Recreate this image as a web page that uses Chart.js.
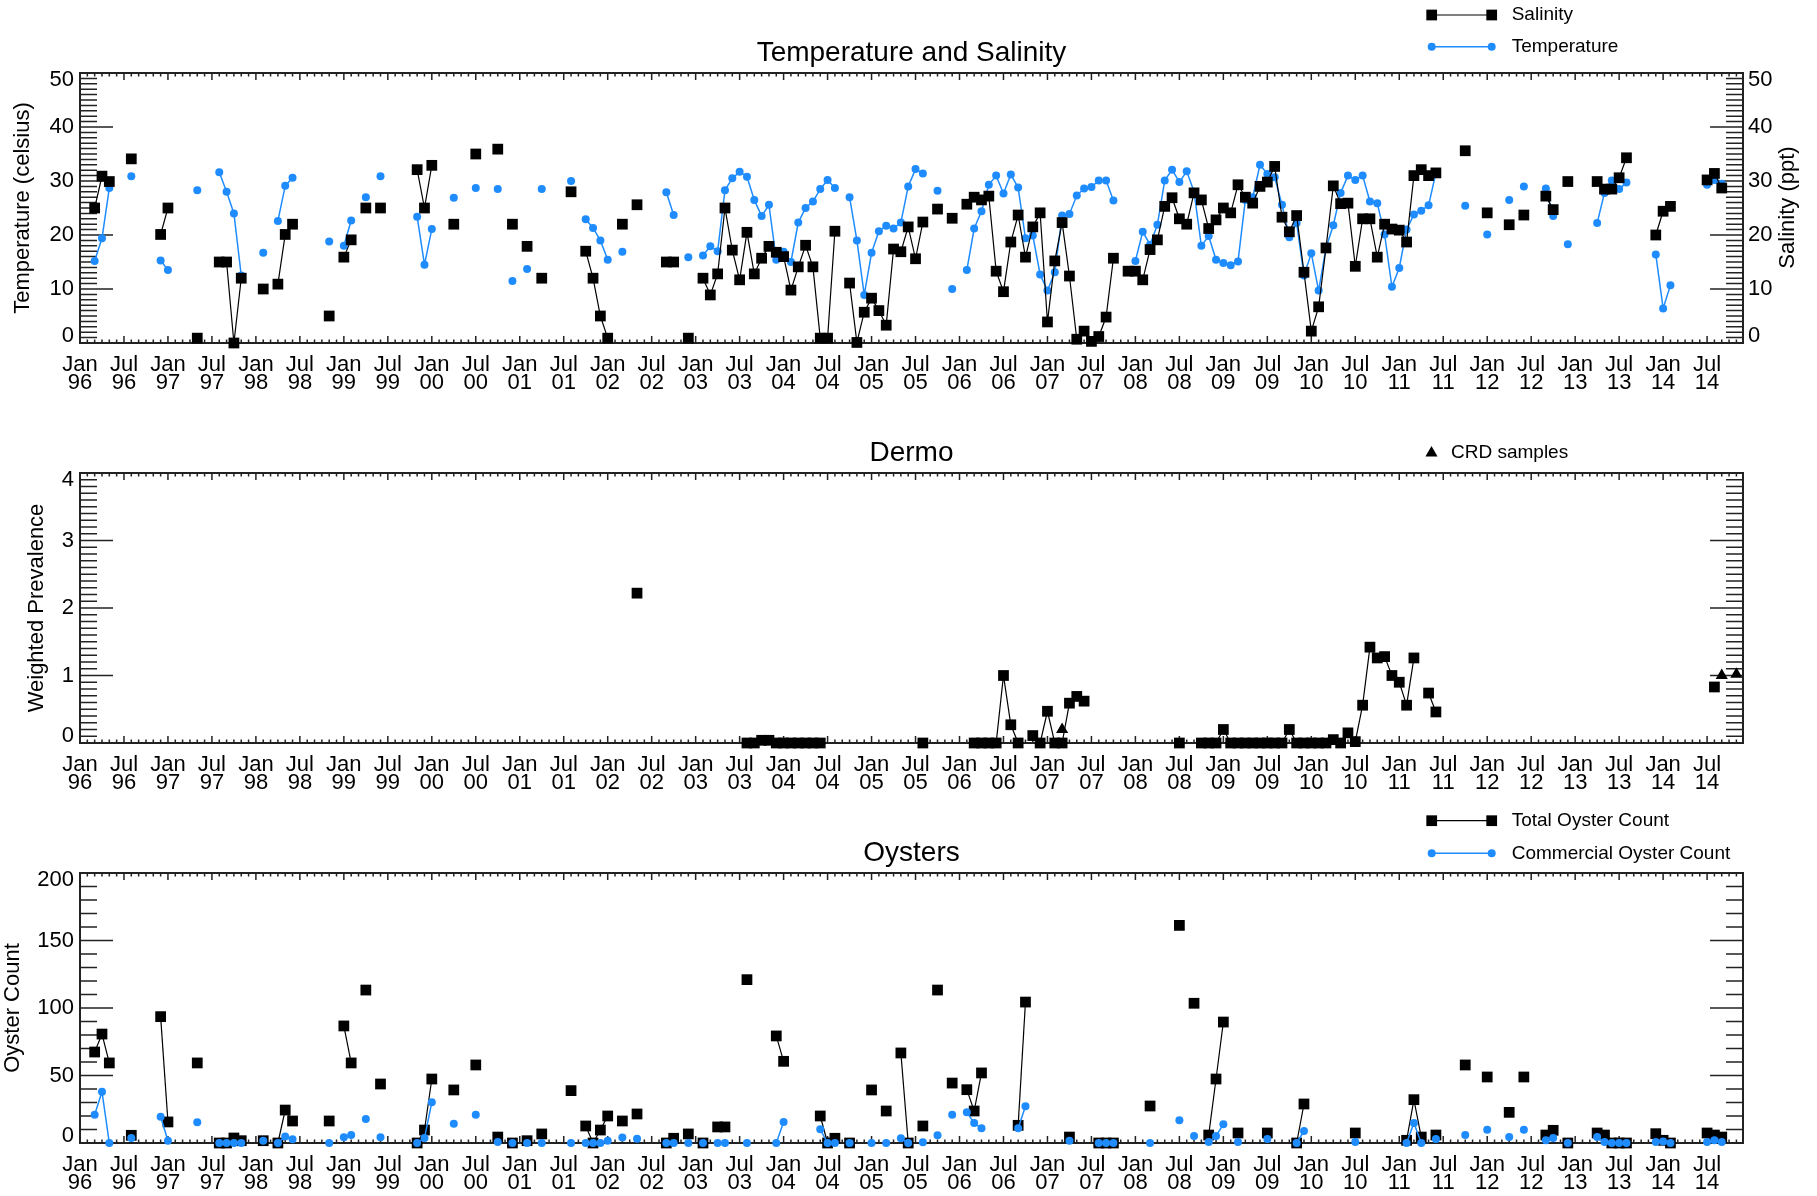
<!DOCTYPE html>
<html>
<head>
<meta charset="utf-8">
<script src="https://cdn.jsdelivr.net/npm/chart.js@4.4.1/dist/chart.umd.min.js"></script>
<style>
  html, body { margin: 0; padding: 0; background: #fff; }
  #wrap { position: relative; width: 1817px; height: 1196px; }
  canvas { position: absolute; left: 0; }
</style>
</head>
<body>
<div id="wrap">
  <canvas id="ch-ts" width="1817" height="400" style="top:0"></canvas>
  <canvas id="ch-dermo" width="1817" height="400" style="top:400px"></canvas>
  <canvas id="ch-oys" width="1817" height="396" style="top:800px"></canvas>
</div>
<script>
/* Station time series: temperature/salinity, Dermo prevalence, oyster counts.
   x values are months counted from Jan 1996 (0 = Jan 96). */

// ---- x axis ----
const X_MAX = 226.9;
const xTickMonths = Array.from({ length: 38 }, (_, i) => i * 6);   // Jan 96 ... Jul 14
const xTickLabels = xTickMonths.map(m => [m % 12 ? 'Jul' : 'Jan', String(96 + Math.floor(m / 12)).slice(-2)]);

// ---- Temperature and Salinity ----
const tsMonth = [
  2, 3, 4, 7, 11, 12, 16, 19, 20, 21, 22, 25, 27, 28, 29, 34, 36, 37, 39, 41,
  46, 47, 48, 51, 54, 57, 59, 61, 63, 67, 69, 70, 71, 72, 74, 76, 80, 81, 83,
  85, 86, 87, 88, 89, 90, 91, 92, 93, 94, 95, 96, 97, 98, 99, 100, 101, 102, 103,
  105, 106, 107, 108, 109, 110, 111, 112, 113, 114, 115, 117, 119,
  121, 122, 123, 124, 125, 126, 127, 128, 129, 130, 131, 132, 133, 134, 135, 136, 137, 138, 139, 140, 141,
  143, 144, 145, 146, 147, 148, 149, 150, 151, 152, 153, 154, 155, 156, 157, 158, 159, 160, 161, 162, 163,
  164, 165, 166, 167, 168, 169, 170, 171, 172, 173, 174, 175, 176, 177, 178, 179, 180, 181, 182, 183, 184, 185,
  189, 192, 195, 197, 200, 201, 203, 207, 208, 209, 210, 211, 215, 216, 217, 222, 223, 224
];
const salinity = [
  25.0, 30.9, 29.9, 34.1, 20.1, 25.0, 0.9, 15.0, 15.0, 0, 12.0, 10.0, 10.9, 20.1, 22.0, 5.0, 15.9, 19.1, 25.0, 25.0,
  32.1, 25.0, 32.9, 22.0, 35.0, 35.9, 22.0, 17.9, 12.0, 28.0, 17.0, 12.0, 5.0, 0.9, 22.0, 25.6, 15.0, 15.0, 0.9,
  12.0, 8.9, 12.8, 25.0, 17.2, 11.7, 20.5, 12.8, 15.7, 17.9, 16.8, 16.0, 9.8, 14.1, 18.1, 14.1, 0.9, 0.9, 20.7,
  11.1, 0.1, 5.7, 8.3, 6.0, 3.3, 17.4, 16.9, 21.5, 15.6, 22.4, 24.8, 23.1,
  25.7, 27.0, 26.5, 27.2, 13.3, 9.5, 18.7, 23.7, 15.9, 21.5, 24.1, 3.9, 15.2, 22.3, 12.4, 0.7, 2.2, 0.3, 1.2, 4.8, 15.7,
  13.3, 13.3, 11.7, 17.3, 19.1, 25.3, 26.9, 23.0, 22.0, 27.8, 26.5, 21.2, 22.8, 25.0, 24.1, 29.3, 27.0, 25.9, 29.0, 29.8, 32.7,
  23.3, 20.6, 23.6, 13.1, 2.2, 6.7, 17.6, 29.1, 25.8, 25.9, 14.2, 23.0, 23.0, 15.9, 22.0, 21.1, 20.9, 18.7, 31.0, 32.1, 31.0, 31.5,
  35.6, 24.1, 21.9, 23.7, 27.2, 24.7, 29.9, 29.9, 28.5, 28.5, 30.6, 34.3, 20.0, 24.4, 25.3, 30.2, 31.4, 28.7
];
const temperature = [
  15.2, 19.4, 28.7, 30.9, 15.3, 13.5, 28.3, 31.6, 28.0, 24.0, 12.5, 16.7, 22.6, 29.1, 30.6, 18.8, 18.0, 22.7, 27.0, 30.9,
  23.4, 14.5, 21.1, 26.9, 28.7, 28.5, 11.5, 13.7, 28.5, 30.0, 22.9, 21.3, 19.0, 15.4, 16.9, null, 27.9, 23.7, 15.9,
  16.2, 17.9, 17.0, 28.3, 30.5, 31.7, 30.8, 26.5, 23.5, 25.6, 15.4, 16.9, 15.0, 22.3, 25.0, 26.2, 28.5, 30.2, 28.7,
  27.0, 19.0, 8.9, 16.7, 20.7, 21.7, 21.2, 22.3, 29.0, 32.2, 31.4, 28.2, 10.0,
  13.5, 21.2, 24.4, 29.3, 31.0, 27.7, 31.2, 28.8, 19.4, 19.9, 12.7, 9.7, 13.1, 23.6, 23.9, 27.3, 28.6, 28.9, 30.1, 30.1, 26.4,
  null, 15.2, 20.6, 18.2, 21.9, 30.1, 32.1, 29.8, 31.8, 28.0, 18.0, 19.8, 15.4, 14.8, 14.4, 15.1, 26.5, 27.0, 33.0, 31.3, 30.7,
  25.6, 19.6, 22.2, 12.5, 16.6, 9.7, 17.6, 21.8, 27.8, 31.0, 30.2, 31.0, 26.2, 25.9, 20.1, 10.4, 13.9, 21.0, 23.8, 24.5, 25.5, 31.5,
  25.4, 20.1, 26.5, 29.0, 28.6, 23.5, 18.3, 22.2, 27.8, 30.1, 28.5, 29.7, 16.4, 6.4, 10.7, 29.3, 30.2, 29.5
];

// ---- Dermo ----
const dermoMonth = [
  76, 91, 92, 93, 94, 95, 96, 97, 98, 99, 100, 101, 115,
  122, 123, 124, 125, 126, 127, 128, 130, 131, 132, 133, 134, 135, 136, 137, 150,
  153, 154, 155, 156, 157, 158, 159, 160, 161, 162, 163, 164, 165, 166, 167,
  168, 169, 170, 171, 172, 173, 174, 175, 176, 177, 178, 179, 180, 181, 182,
  184, 185, 223
];
const dermo = [
  2.22, 0, 0, 0.04, 0.04, 0, 0, 0, 0, 0, 0, 0, 0,
  0, 0, 0, 0, 1.0, 0.27, 0, 0.11, 0, 0.47, 0, 0, 0.59, 0.69, 0.62, 0,
  0, 0, 0, 0.2, 0, 0, 0, 0, 0, 0, 0, 0, 0.2, 0, 0,
  0, 0, 0, 0.05, 0, 0.15, 0.02, 0.56, 1.42, 1.26, 1.28, 1.0, 0.9, 0.56, 1.26,
  0.74, 0.46, 0.83
];
const crdMonth = [134, 224, 226];
const crd = [0.2, 1.0, 1.02];

// ---- Oysters ----
const oysterMonth = [
  2, 3, 4, 7, 11, 12, 16, 19, 20, 21, 22, 25, 27, 28, 29, 34, 36, 37, 39, 41,
  46, 47, 48, 51, 54, 57, 59, 61, 63, 67, 69, 70, 71, 72, 74, 76, 80, 81, 83, 85,
  87, 88, 91, 95, 96, 101, 102, 103, 105, 108, 110, 112, 113, 115, 117, 119,
  121, 122, 123, 128, 129, 135, 139, 140, 141, 146, 150, 152, 154, 155, 156, 158, 162, 166, 167,
  174, 181, 182, 183, 185, 189, 192, 195, 197, 200, 201, 203,
  207, 208, 209, 210, 211, 215, 216, 217, 222, 223, 224
];
const totalOysters = [
  67.4, 80.7, 59.3, 5.7, 93.6, 15.6, 59.3, 0, 0, 3.7, 1.7, 1.7, 0, 24.4, 16.3, 16.3, 86.7, 59.3, 113.3, 43.7,
  0, 9.6, 47.4, 39.3, 57.8, 4.4, 0, 1.7, 6.7, 38.8, 12.6, 0, 9.6, 20, 16.3, 21.5, 0, 3.5, 6.7, 0,
  11.9, 11.9, 121, 79.3, 60.5, 20, 0, 3.5, 0, 39.3, 23.7, 66.7, 0, 12.6, 113.3, 44.4,
  39.5, 23.7, 51.9, 13.1, 104.4, 4.4, 0, 0, 0, 27.4, 161.2, 103.5, 5.9, 47.4, 89.6, 7.4, 7.4, 0, 28.9,
  7.4, 2, 32.1, 4.4, 5.9, 57.8, 48.9, 22.7, 48.9, 5.9, 9.4, 0,
  7.4, 5.9, 0, 0, 0, 6.9, 2, 0, 7.4, 5.9, 4.4
];
const commercialOysters = [
  21, 38, 0, 3.7, 19.5, 1.7, 15.3, 0, 0, 0, 0, 1.7, 0, 4.9, 2.7, 0, 4.2, 5.9, 17.8, 4.2,
  0, 3.7, 30.1, 14.3, 21, 0.7, 0, 0, 0, 0, 0, 0, 0, 1.7, 4, 3.2, 0, 0, 0, 0,
  0, 0, 0, 0, 15.6, 10.1, 0, 0, 0, 0, 0, 3.5, 0, 0.5, 5.7, 21,
  22.7, 14.8, 10.9, 10.9, 27.2, 1.7, 0, 0, 0, 0, 16.8, 5.2, 0.7, 5.2, 13.8, 0.7, 3, 0, 8.9,
  0.7, 0, 14.8, 0, 3, 5.9, 9.9, 4.4, 9.9, 2, 3.7, 0,
  4.4, 0.7, 0, 0, 0, 0.7, 1.2, 0, 0.7, 2, 0.7
];

// ---- look ----
const FONT = "'Liberation Sans', Arial, Helvetica, sans-serif";
const BLUE = '#1e8cff';
const INK = '#000';
const AXIS = '#222';
Chart.defaults.font.family = FONT;
Chart.defaults.color = INK;

const pts = (xs, ys) => xs.map((x, i) => ({ x, y: ys[i] }));
// samples more than a month apart are not joined
const gapSeg = { borderColor: c => (c.p1.parsed.x - c.p0.parsed.x > 1.5 ? 'rgba(0,0,0,0)' : undefined) };

function series(label, xs, ys, color, style, radius, order, extra = {}) {
  return Object.assign({
    label, data: pts(xs, ys), borderColor: color, backgroundColor: color,
    borderWidth: color === BLUE ? 1.5 : 1.2, pointStyle: style, pointRadius: radius,
    pointBorderWidth: 0, pointHoverRadius: radius, order, clip: false, segment: gapSeg,
  }, extra);
}

function xScale(h) {
  return {
    type: 'linear', position: 'bottom', min: 0, max: X_MAX,
    afterBuildTicks: s => { s.ticks = xTickMonths.map(v => ({ value: v })); },
    afterFit: s => { s.height = h - 343; },
    grid: { display: false, drawTicks: false }, border: { display: false },
    ticks: {
      autoSkip: false, maxRotation: 0, minRotation: 0, padding: 12.5, color: INK,
      font: { size: 22, lineHeight: 0.82 },
      callback: v => { const i = xTickMonths.indexOf(v); return i < 0 ? '' : xTickLabels[i]; },
    },
  };
}

// end labels sit just inside the axis range, as in the original plot
function yScale(max, step, title, titlePad, position = 'left') {
  return {
    type: 'linear', position, min: 0, max,
    afterFit: s => { s.width = position === 'left' ? 80 : 74; },
    grid: { display: false, drawTicks: false }, border: { display: false },
    ticks: {
      stepSize: step, padding: position === 'left' ? 6 : 5, color: INK, font: { size: 22, lineHeight: 0.6 },
      callback: v => (v === max ? ['', String(v)] : v === 0 ? [String(v), ''] : String(v)),
    },
    title: { display: !!title, text: title || '', color: INK, font: { size: 22, lineHeight: 1.2 }, padding: { top: titlePad, bottom: 0 } },
  };
}

// frame, inward minor/major ticks, legend, extra text
function decor(cfg) {
  return {
    id: 'decor',
    beforeDatasetsDraw(chart) {
      const { ctx, chartArea: a, scales } = chart;
      const ys = scales.y;
      ctx.save();
      ctx.strokeStyle = AXIS;
      ctx.lineWidth = 1.5;
      ctx.beginPath();
      for (let m = 0; m <= X_MAX; m++) {
        const px = scales.x.getPixelForValue(m);
        const len = m % 6 === 0 ? 7 : 3.5;
        ctx.moveTo(px, a.bottom); ctx.lineTo(px, a.bottom - len);
        ctx.moveTo(px, a.top); ctx.lineTo(px, a.top + len);
      }
      const n = Math.round(ys.max / cfg.yMinor);
      for (let i = 0; i <= n; i++) {
        const py = ys.getPixelForValue(i * cfg.yMinor);
        const len = i % cfg.perMajor === 0 ? 33 : 17;
        ctx.moveTo(a.left, py); ctx.lineTo(a.left + len, py);
        ctx.moveTo(a.right, py); ctx.lineTo(a.right - len, py);
      }
      ctx.stroke();
      ctx.lineWidth = 2;
      ctx.strokeRect(a.left, a.top, a.right - a.left, a.bottom - a.top);
      ctx.restore();
    },
    afterDraw(chart) {
      const { ctx } = chart;
      ctx.save();
      for (const it of cfg.legend) {
        if (it.x2) {
          ctx.strokeStyle = it.color;
          ctx.lineWidth = it.color === BLUE ? 1.5 : 1.2;
          ctx.beginPath(); ctx.moveTo(it.x1, it.y); ctx.lineTo(it.x2, it.y); ctx.stroke();
        }
        ctx.fillStyle = it.color;
        const p = { pointStyle: it.style, radius: it.radius, rotation: 0, borderWidth: 0 };
        Chart.helpers.drawPoint(ctx, p, it.x1, it.y);
        if (it.x2) Chart.helpers.drawPoint(ctx, p, it.x2, it.y);
        ctx.fillStyle = INK;
        ctx.font = '19px ' + FONT;
        ctx.textAlign = 'left';
        ctx.textBaseline = 'middle';
        ctx.fillText(it.label, it.tx, it.y);
      }
      if (cfg.rightTitle) {
        const r = cfg.rightTitle;
        ctx.translate(r.x, r.y);
        ctx.rotate(-Math.PI / 2);
        ctx.font = '22px ' + FONT;
        ctx.textAlign = 'center';
        ctx.textBaseline = 'middle';
        ctx.fillStyle = INK;
        ctx.fillText(r.text, 0, 0);
      }
      ctx.restore();
    },
  };
}

function baseOptions(title, scales, padRight) {
  return {
    responsive: false, animation: false, devicePixelRatio: 1, events: [],
    layout: { padding: { top: 0, left: 0, right: padRight, bottom: 0 } },
    plugins: {
      legend: { display: false },
      tooltip: { enabled: false },
      title: {
        display: true, text: title, color: INK, fullSize: false,
        font: { size: 28, weight: 'normal', lineHeight: 1.2 },
        padding: { top: 36, bottom: 3.4 },
      },
    },
    scales,
  };
}

// ---- Temperature and Salinity ----
new Chart(document.getElementById('ch-ts'), {
  type: 'line',
  data: {
    datasets: [
      series('Salinity', tsMonth, salinity, INK, 'rect', 7.6, 0, { yAxisID: 'y1' }),
      series('Temperature', tsMonth, temperature, BLUE, 'circle', 4, 1, { yAxisID: 'y' }),
    ],
  },
  options: baseOptions('Temperature and Salinity', {
    x: xScale(400),
    y: yScale(50, 10, 'Temperature (celsius)', 10),
    y1: yScale(50, 10, '', 0, 'right'),
  }, 0),
  plugins: [decor({
    yMinor: 1, perMajor: 10,
    legend: [
      { label: 'Salinity', color: INK, style: 'rect', radius: 7.6, x1: 1431.7, x2: 1491.7, tx: 1511.7, y: 15 },
      { label: 'Temperature', color: BLUE, style: 'circle', radius: 4, x1: 1431.7, x2: 1491.7, tx: 1511.7, y: 46.7 },
    ],
    rightTitle: { text: 'Salinity (ppt)', x: 1788, y: 207.5 },
  })],
});

// ---- Dermo ----
new Chart(document.getElementById('ch-dermo'), {
  type: 'line',
  data: {
    datasets: [
      series('CRD samples', crdMonth, crd, INK, 'triangle', 7, 0, { showLine: false }),
      series('Dermo', dermoMonth, dermo, INK, 'rect', 7.6, 1),
    ],
  },
  options: baseOptions('Dermo', {
    x: xScale(400),
    y: yScale(4, 1, 'Weighted Prevalence', 24),
  }, 74),
  plugins: [decor({
    yMinor: 0.1, perMajor: 10,
    legend: [
      { label: 'CRD samples', color: INK, style: 'triangle', radius: 7, x1: 1431.5, tx: 1451, y: 53 },
    ],
  })],
});

// ---- Oysters ----
new Chart(document.getElementById('ch-oys'), {
  type: 'line',
  data: {
    datasets: [
      series('Commercial Oyster Count', oysterMonth, commercialOysters, BLUE, 'circle', 4, 0),
      series('Total Oyster Count', oysterMonth, totalOysters, INK, 'rect', 7.6, 1),
    ],
  },
  options: baseOptions('Oysters', {
    x: xScale(396),
    y: yScale(200, 50, 'Oyster Count', 0),
  }, 74),
  plugins: [decor({
    yMinor: 10, perMajor: 5,
    legend: [
      { label: 'Total Oyster Count', color: INK, style: 'rect', radius: 7.6, x1: 1431.7, x2: 1491.7, tx: 1511.7, y: 20.7 },
      { label: 'Commercial Oyster Count', color: BLUE, style: 'circle', radius: 4, x1: 1431.7, x2: 1491.7, tx: 1511.7, y: 53.3 },
    ],
  })],
});
</script>
</body>
</html>
